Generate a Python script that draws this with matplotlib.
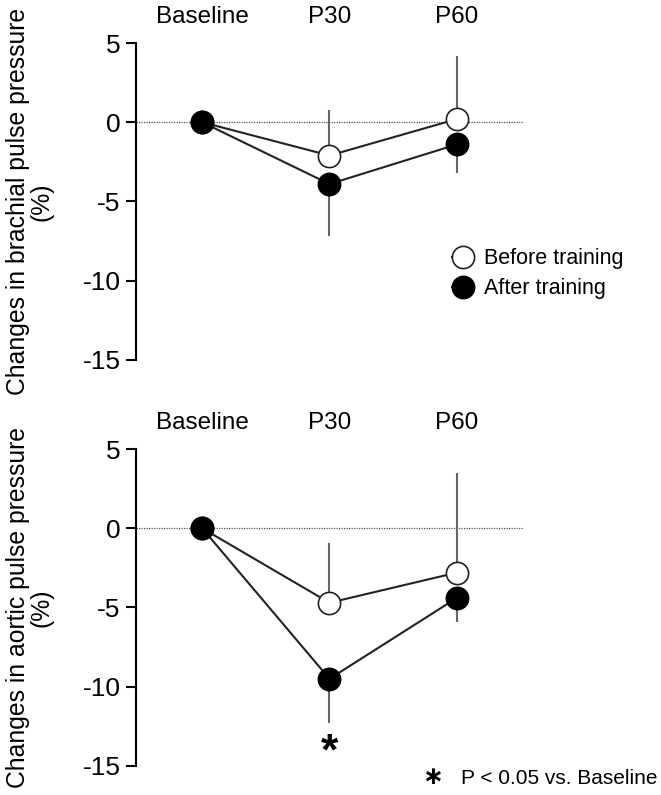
import numpy as np
import matplotlib
matplotlib.use('Agg')
import matplotlib.pyplot as plt

plt.rcParams['font.family'] = ['Liberation Sans', 'DejaVu Sans']

categories = ['Baseline', 'P30', 'P60']
x = np.array([1, 2, 3])

# brachial pulse pressure (%)
brach_before = [0, -2.1, 0.2]
brach_before_up = [0, 2.9, 4.0]
brach_after = [0, -3.9, -1.4]
brach_after_down = [0, 3.3, 1.8]

# aortic pulse pressure (%)
aortic_before = [0, -4.7, -2.8]
aortic_before_up = [0, 3.8, 6.3]
aortic_after = [0, -9.5, -4.4]
aortic_after_down = [0, 2.8, 1.5]

ylabels = ['Changes in brachial pulse pressure\n(%)',
           'Changes in aortic pulse pressure\n(%)']

fig = plt.figure(figsize=(6.61, 7.95), dpi=100)
ax1 = fig.add_axes([0.2057, 0.5472, 0.5855, 0.3987])
ax2 = fig.add_axes([0.2057, 0.0365, 0.5855, 0.3987])

panels = [(ax1, brach_before, brach_before_up, brach_after, brach_after_down),
          (ax2, aortic_before, aortic_before_up, aortic_after, aortic_after_down)]

for i, (ax, bef, bef_up, aft, aft_down) in enumerate(panels):
    ax.axhline(0, color='#555555', lw=0.9, ls=(0, (1, 1)), zorder=1)
    # one-sided error bars
    ax.errorbar(x, bef, yerr=[np.zeros(3), bef_up], fmt='none', ecolor='#666666',
                elinewidth=1.5, capsize=0, zorder=2)
    ax.errorbar(x, aft, yerr=[aft_down, np.zeros(3)], fmt='none', ecolor='#666666',
                elinewidth=1.5, capsize=0, zorder=2)
    ax.plot(x, bef, '-o', color='#222222', lw=1.5, ms=16, mfc='white', mec='#222222',
            mew=1.2, label='Before training', zorder=3, clip_on=False)
    ax.plot(x, aft, '-o', color='#222222', lw=1.5, ms=16, mfc='black', mec='black',
            mew=1.2, label='After training', zorder=4, clip_on=False)

    ax.set_xlim(0.48, 3.52)
    ax.set_ylim(-15, 5)
    ax.set_yticks([5, 0, -5, -10, -15])
    ax.set_yticklabels(['5', '0', '-5', '-10', '-15'])
    ax.xaxis.tick_top()
    ax.set_xticks(x)
    ax.set_xticklabels(categories)
    ax.tick_params(axis='x', length=0, pad=11, labelsize=17.5)
    ax.tick_params(axis='y', length=7, width=1.5, pad=4, labelsize=19)
    for s in ['top', 'right', 'bottom']:
        ax.spines[s].set_visible(False)
    ax.spines['left'].set_linewidth(1.5)
    ax.set_ylabel(ylabels[i], fontsize=17.8, linespacing=0.95)
    ax.yaxis.set_label_coords(-0.214, 0.5)

leg = ax1.legend(loc='center left', bbox_to_anchor=(0.79, 0.272), frameon=False,
                 fontsize=15.5, handlelength=1.0, handletextpad=0.45, borderpad=0,
                 labelspacing=0.4, numpoints=1)

ax2.text(2, -14.2, '*', ha='center', va='center', fontsize=32, fontweight='bold')
fig.text(0.994, 0.021, 'P < 0.05 vs. Baseline', ha='right', va='center', fontsize=15)
fig.text(0.655, 0.023, '\u2217', ha='center', va='center', fontsize=18, fontweight='bold',
         family=['DejaVu Sans'])

plt.savefig('out.png', dpi=100)
